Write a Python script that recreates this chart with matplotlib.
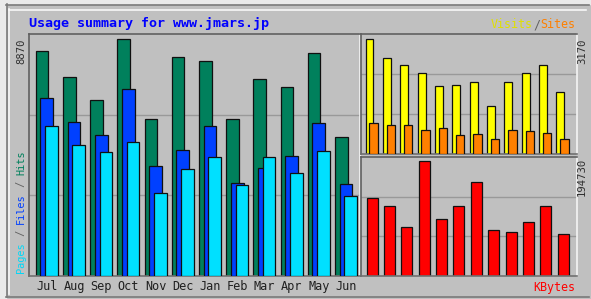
import matplotlib.pyplot as plt
from matplotlib.patches import Rectangle
from matplotlib.lines import Line2D

# Usage summary data
months = ['Jul', 'Aug', 'Sep', 'Oct', 'Nov', 'Dec', 'Jan', 'Feb', 'Mar', 'Apr', 'May', 'Jun']
hits = [8441, 7463, 6612, 8870, 5871, 8193, 8065, 5897, 7376, 7075, 8343, 5205]
files = [6687, 5784, 5295, 7000, 4113, 4730, 5634, 3500, 4038, 4516, 5731, 3451]
pages = [5607, 4919, 4640, 5031, 3112, 4027, 4467, 3413, 4467, 3850, 4678, 2984]
visits = [3170, 2637, 2449, 2225, 1868, 1896, 2000, 1318, 2000, 2225, 2449, 1700]
sites = [858, 794, 794, 662, 729, 533, 561, 410, 662, 626, 589, 410]
kbytes = [132860, 119110, 83020, 194730, 97280, 119110, 158640, 77340, 73910, 91090, 119110, 71500]

W, H = 591, 299
BG = '#c0c0c0'
MONO = 'DejaVu Sans Mono'


def fx(x):
    return x / W


def fy(y):
    return 1 - y / H


def box(x0, y0, x1, y1):
    return [fx(x0), fy(y1), (x1 - x0) / W, (y1 - y0) / H]


def panel(rect):
    ax = fig.add_axes(rect)
    ax.set_facecolor(BG)
    ax.set_xticks([])
    ax.set_yticks([])
    for side in ['top', 'left']:
        ax.spines[side].set_color('#606060')
    ax.spines['bottom'].set_color('#707070')
    ax.spines['right'].set_color('#f4f4f4')
    for s in ax.spines.values():
        s.set_linewidth(1.2)
    return ax


def grid(ax, top):
    for f in (1 / 3, 2 / 3):
        ax.axhline(top * f, color='#999999', lw=1, zorder=0)


fig = plt.figure(figsize=(W / 100, H / 100), dpi=100, facecolor=BG)

# outer 3d frame
fig.add_artist(Rectangle((0, fy(4)), 1, 1, transform=fig.transFigure, color='#eaeaea', zorder=0))
fig.add_artist(Rectangle((0, 0), fx(6), 1, transform=fig.transFigure, color='#eaeaea', zorder=0))
fig.add_artist(Line2D([fx(6), fx(589)], [fy(4.5), fy(4.5)], color='#7a7a7a', lw=1.2))
fig.add_artist(Line2D([fx(6.5), fx(6.5)], [fy(4), fy(297)], color='#7a7a7a', lw=1.2))
fig.add_artist(Line2D([fx(9), fx(586)], [fy(9.5), fy(9.5)], color='#f8f8f8', lw=1.2))
fig.add_artist(Line2D([fx(9.5), fx(9.5)], [fy(9), fy(294)], color='#f8f8f8', lw=1.2))
fig.add_artist(Line2D([fx(6), fx(589)], [fy(296.5), fy(296.5)], color='#7a7a7a', lw=1.2))

# main panel: hits / files / pages
ax = panel(box(29, 34, 360, 276))
x = list(range(len(months)))
top = max(hits) * 1.023
bw = 0.467
off = 0.173
ax.bar([i - off for i in x], hits, bw, color='#00805c', edgecolor='#101010', lw=0.9, zorder=2)
ax.bar(x, files, bw, color='#0040ff', edgecolor='#101010', lw=0.9, zorder=3)
ax.bar([i + off for i in x], pages, bw, color='#00e0ff', edgecolor='#101010', lw=0.9, zorder=4)
grid(ax, top)
ax.set_xlim(-0.654, 11.515)
ax.set_ylim(0, top)
ax.set_xticks(x)
ax.set_xticklabels(months, family=MONO, fontsize=8.6, color='#202020')
ax.tick_params(length=0, pad=3)

# visits / sites panel
ax2 = panel(box(361, 34, 577, 154))
vtop = max(visits) * 1.045
ax2.bar([i - 0.115 for i in x], visits, 0.45, color='#ffff00', edgecolor='#101010', lw=0.9, zorder=2)
ax2.bar([i + 0.115 for i in x], sites, 0.48, color='#ff8000', edgecolor='#101010', lw=0.9, zorder=3)
grid(ax2, vtop)
ax2.set_xlim(-0.608, 11.842)
ax2.set_ylim(0, vtop)

# kbytes panel
ax3 = panel(box(361, 157, 577, 276))
ktop = max(kbytes) * 1.035
ax3.bar(x, kbytes, 0.634, color='#ff0000', edgecolor='#101010', lw=0.9, zorder=2)
grid(ax3, ktop)
ax3.set_xlim(-0.646, 11.804)
ax3.set_ylim(0, ktop)

# texts
fig.text(fx(29), fy(23), 'Usage summary for www.jmars.jp', family=MONO, fontweight='bold',
         fontsize=9.6, color='#0000ff', ha='left', va='center')
fig.text(fx(21), fy(38), str(max(hits)), family=MONO, fontsize=7.6, color='#303030',
         rotation=90, ha='center', va='top')
fig.text(fx(582), fy(38), str(max(visits)), family=MONO, fontsize=7.6, color='#303030',
         rotation=90, ha='center', va='top')
fig.text(fx(582), fy(158), str(max(kbytes)), family=MONO, fontsize=7.6, color='#303030',
         rotation=90, ha='center', va='top')
fig.text(fx(575), fy(287), 'KBytes', family=MONO, fontsize=8.4, color='#ff0000',
         ha='right', va='center')

# multi-coloured vertical label: Pages / Files / Hits
pieces = [('Pages', '#00d8f8'), (' / ', '#606060'), ('Files', '#0040ff'),
          (' / ', '#606060'), ('Hits', '#00805c')]
prev = fig.text(fx(21), fy(273), pieces[0][0], family=MONO, fontsize=7.4, color=pieces[0][1],
                rotation=90, ha='center', va='bottom')
for s, c in pieces[1:]:
    prev = fig.add_artist(plt.Annotation(s, xy=(0.5, 1), xycoords=prev, family=MONO,
                                         fontsize=7.4, color=c, rotation=90,
                                         ha='center', va='bottom'))

# Visits / Sites legend text
t = fig.text(fx(575), fy(25), 'Sites', family=MONO, fontsize=8.4, color='#ff8000',
             ha='right', va='center')
t2 = fig.add_artist(plt.Annotation('/', xy=(0, 0.5), xycoords=t, family=MONO, fontsize=8.4,
                                   color='#606060', ha='right', va='center'))
fig.add_artist(plt.Annotation('Visits', xy=(0, 0.5), xycoords=t2, family=MONO, fontsize=8.4,
                              color='#e0e000', ha='right', va='center'))

fig.savefig('out.png', dpi=100, facecolor=BG)
